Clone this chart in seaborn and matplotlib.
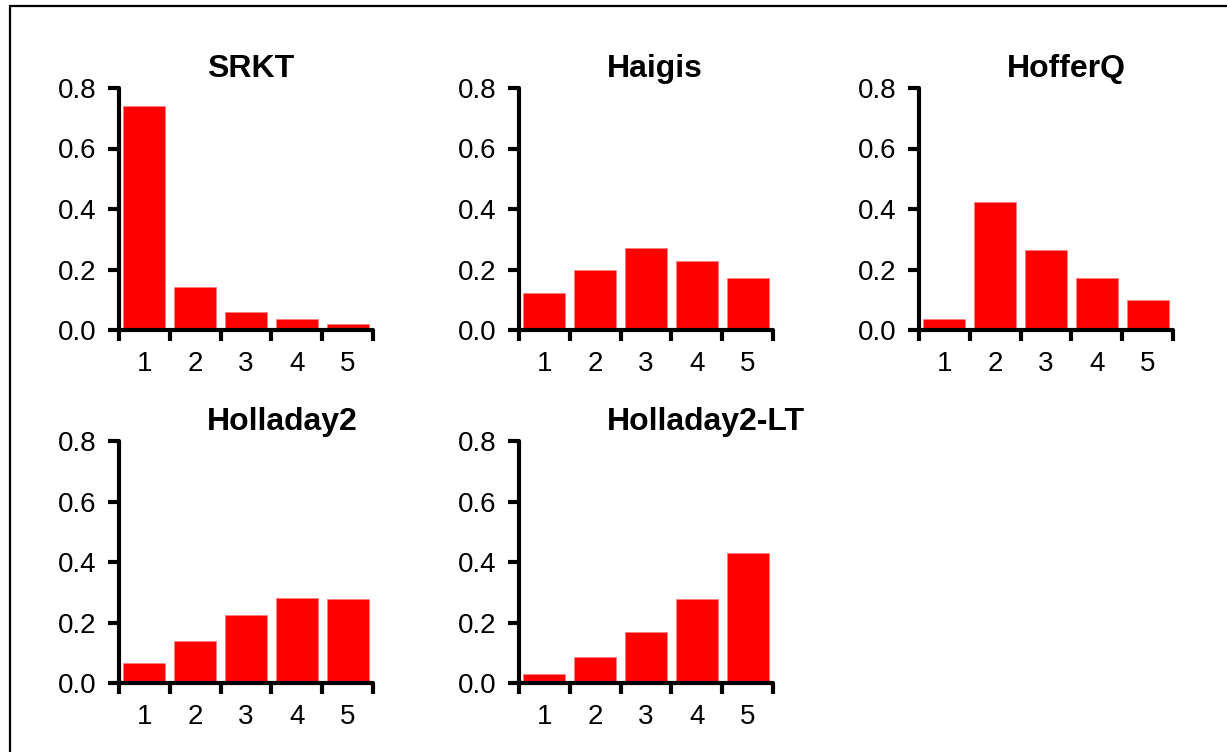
import matplotlib
matplotlib.use("Agg")
import matplotlib.pyplot as plt
import seaborn as sns
import pandas as pd
from matplotlib.lines import Line2D

sns.set_theme(style="white")
plt.rcParams['font.family'] = ['Liberation Sans', 'DejaVu Sans']
plt.rcParams['text.color'] = 'black'
plt.rcParams['xtick.color'] = 'black'
plt.rcParams['ytick.color'] = 'black'
plt.rcParams['xtick.labelcolor'] = 'black'
plt.rcParams['ytick.labelcolor'] = 'black'

categories = ["1", "2", "3", "4", "5"]
titles = ["SRKT", "Haigis", "HofferQ", "Holladay2", "Holladay2-LT"]
srkt = [0.740, 0.141, 0.060, 0.035, 0.019]
haigis = [0.121, 0.200, 0.270, 0.229, 0.171]
hofferq = [0.035, 0.422, 0.265, 0.172, 0.099]
holladay2 = [0.066, 0.141, 0.227, 0.282, 0.277]
holladay2_lt = [0.030, 0.086, 0.169, 0.277, 0.430]
series = [srkt, haigis, hofferq, holladay2, holladay2_lt]
yticks = [0.0, 0.2, 0.4, 0.6, 0.8]
ytick_labels = ["0.0", "0.2", "0.4", "0.6", "0.8"]

W, H = 1227, 752
fig = plt.figure(figsize=(W / 100, H / 100), dpi=100)

lefts = [119, 519, 919]
row_tops = [88, 441]
row_bottoms = [330, 683.3]
ax_w = 254

positions = [(0, 0), (0, 1), (0, 2), (1, 0), (1, 1)]
for (r, c), title, vals in zip(positions, titles, series):
    l = lefts[c]
    b = row_bottoms[r]
    t = row_tops[r]
    ax = fig.add_axes([l / W, 1 - b / H, ax_w / W, (b - t) / H])
    df = pd.DataFrame({"cat": categories, "val": vals})
    sns.barplot(data=df, x="cat", y="val", order=categories, color="#FF0000",
                saturation=1, width=0.83, ax=ax, edgecolor="#FF8080", linewidth=0.5)
    ax.set_xlim(-0.5, 4.5)
    ax.set_ylim(0, 0.8)
    ax.set_xlabel("")
    ax.set_ylabel("")
    for s in ["top", "right"]:
        ax.spines[s].set_visible(False)
    for s in ["left", "bottom"]:
        ax.spines[s].set_linewidth(3)
        ax.spines[s].set_color("black")
        ax.spines[s].set_capstyle("round")
    ax.set_yticks(yticks)
    ax.set_yticklabels(ytick_labels)
    ax.set_xticks(range(5))
    ax.set_xticklabels(categories)
    ax.set_xticks([i - 0.5 for i in range(6)], minor=True)
    ax.tick_params(axis="y", which="major", direction="out", length=8, width=3,
                   color="black", labelcolor="black", labelsize=20, pad=8, left=True)
    ax.tick_params(axis="x", which="major", length=0, labelsize=20, pad=15,
                   labelcolor="black", bottom=True)
    ax.tick_params(axis="x", which="minor", direction="out", length=8, width=3,
                   color="black", bottom=True)
    ax.text(88 / ax_w, 1 + 11 / (b - t), title, transform=ax.transAxes,
            ha="left", va="baseline", fontsize=23, fontweight="bold", color="black")
    ax.set_facecolor("white")
    ax.grid(False)

# Outer frame (left and top visible)
fig.add_artist(Line2D([9.5 / W, 9.5 / W], [0, 1 - 5.7 / H], transform=fig.transFigure,
                      color="black", linewidth=1.6))
fig.add_artist(Line2D([9.5 / W, 1.0], [1 - 5.7 / H, 1 - 5.7 / H], transform=fig.transFigure,
                      color="black", linewidth=1.6))

fig.savefig("out.png", dpi=100, facecolor="white")
